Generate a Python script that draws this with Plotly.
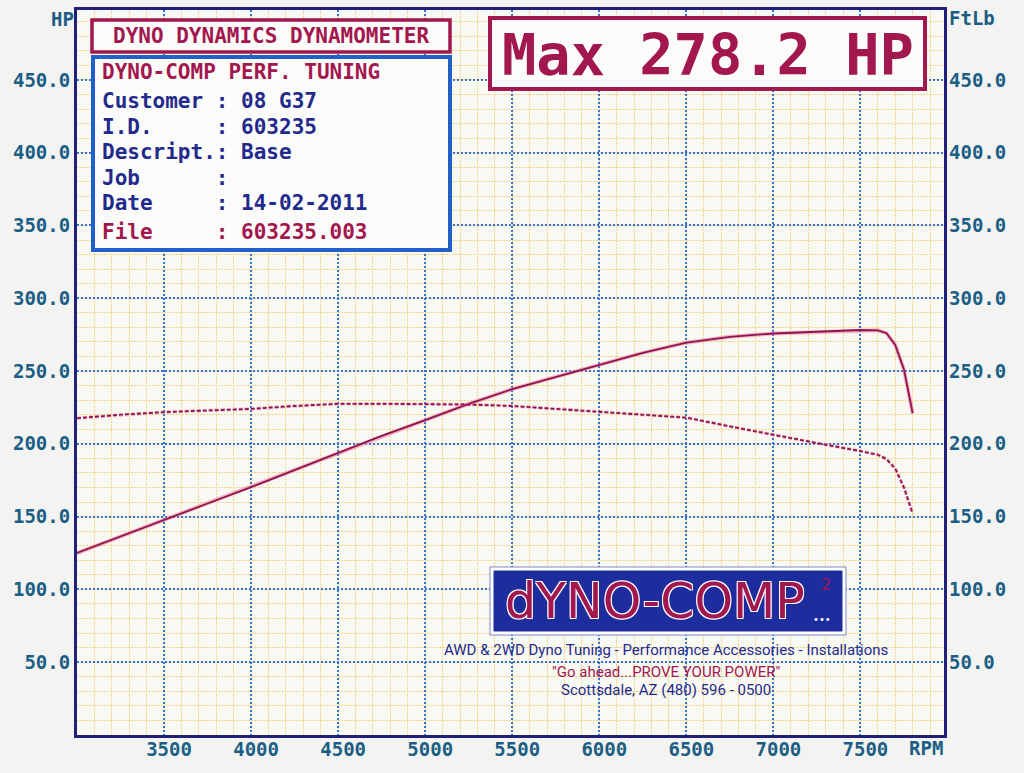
import plotly.graph_objects as go

# ---------------- data ----------------
rpm = [3000, 3250, 3500, 3750, 4000, 4250, 4500, 4750, 5000, 5250, 5500, 5750,
       6000, 6250, 6500, 6750, 7000, 7250, 7500, 7600, 7650, 7700, 7750, 7800]
hp = [125.0, 136.5, 147.7, 159.0, 170.3, 182.0, 194.0, 205.5, 216.3, 227.5, 237.6, 246.0,
      254.0, 262.5, 269.5, 273.5, 275.8, 276.8, 278.2, 278.0, 276.0, 268.0, 251.0, 221.0]
torque = [217.6, 220.0, 221.8, 223.0, 224.0, 226.0, 227.5, 227.5, 227.3, 227.0, 226.0, 224.0,
          221.5, 220.0, 218.0, 212.0, 206.0, 200.5, 195.0, 192.5, 189.5, 183.0, 170.0, 152.0]

x_ticks = [3500, 4000, 4500, 5000, 5500, 6000, 6500, 7000, 7500]
y_ticks = [50, 100, 150, 200, 250, 300, 350, 400, 450]

info_lines = [
    ("DYNO-COMP PERF. TUNING", "crimson"),
    ("Customer : 08 G37", "navy"),
    ("I.D.     : 603235", "navy"),
    ("Descript.: Base", "navy"),
    ("Job      :", "navy"),
    ("Date     : 14-02-2011", "navy"),
    ("File     : 603235.003", "crimson"),
]
header_text = "DYNO DYNAMICS DYNAMOMETER"
max_text = "Max 278.2 HP"
logo_text = "dYNO-COMP"
tag_lines = [
    ("AWD & 2WD Dyno Tuning - Performance Accessories - Installations", "navy"),
    ("\"Go ahead...PROVE YOUR POWER\"", "crimson"),
    ("Scottsdale, AZ (480) 596 - 0500", "navy"),
]

# ---------------- style ----------------
W, H = 1024, 773
L, R, T, B = 77, 80, 10, 38
PW, PH = W - L - R, H - T - B
MONO = "DejaVu Sans Mono"
C_CRIMSON = "#a3174f"
C_NAVY = "#1f2a8c"
C_AXIS = "#1b5e85"
C_FRAME = "#20207c"
C_MAJOR = "#3573d4"
C_MINOR = "#f0d68e"
colors = {"crimson": C_CRIMSON, "navy": C_NAVY}


def px(x):
    return (x - L) / PW


def py(y):
    return (H - B - y) / PH


fig = go.Figure()

# halo + line for HP
fig.add_trace(go.Scatter(x=rpm, y=hp, mode="lines", line=dict(color="#f27a9a", width=4),
                         opacity=0.55, hoverinfo="skip", showlegend=False))
fig.add_trace(go.Scatter(x=rpm, y=hp, mode="lines", name="HP",
                         line=dict(color="#8c1450", width=1.8), showlegend=False))
# torque (dashed) on right axis
fig.add_trace(go.Scatter(x=rpm, y=torque, mode="lines", yaxis="y2", line=dict(color="#f27a9a", width=3.5, dash="4px,2px"),
                         opacity=0.5, hoverinfo="skip", showlegend=False))
fig.add_trace(go.Scatter(x=rpm, y=torque, mode="lines", name="FtLb", yaxis="y2",
                         line=dict(color="#8c1450", width=1.8, dash="4px,2px"), showlegend=False))

axis_font = dict(family=MONO, size=19, color=C_AXIS, weight="bold")

fig.update_layout(
    width=W, height=H,
    margin=dict(l=L, r=R, t=T, b=B, pad=0, autoexpand=False),
    paper_bgcolor="#f3f4f1",
    plot_bgcolor="#f9f9f3",
    showlegend=False,
    xaxis=dict(
        range=[3000, 7980], tickvals=x_ticks, ticktext=[str(v) for v in x_ticks],
        showgrid=True, gridcolor=C_MAJOR, griddash="2px,2px", gridwidth=1.5,
        minor=dict(dtick=100, tick0=3000, showgrid=True, gridcolor=C_MINOR, griddash="2px,1px", gridwidth=1.2),
        showline=True, mirror=True, linecolor=C_FRAME, linewidth=3, automargin=False,
        ticks="", tickfont=axis_font, ticklabelstandoff=-5, ticklabelshift=5, zeroline=False,
    ),
    yaxis=dict(
        range=[0, 498], tickvals=y_ticks, ticktext=["%.1f" % v for v in y_ticks],
        showgrid=True, gridcolor=C_MAJOR, griddash="2px,2px", gridwidth=1.5,
        minor=dict(dtick=10, tick0=0, showgrid=True, gridcolor=C_MINOR, griddash="2px,1px", gridwidth=1.2),
        showline=True, mirror=True, linecolor=C_FRAME, linewidth=3, automargin=False,
        ticks="", tickfont=axis_font, ticklabelstandoff=0, zeroline=False,
    ),
    yaxis2=dict(
        range=[0, 498], tickvals=y_ticks, ticktext=["%.1f" % v for v in y_ticks],
        overlaying="y", side="right", showgrid=False, zeroline=False, automargin=False,
        ticks="", tickfont=axis_font, ticklabelstandoff=4,
    ),
)

shapes = []
annotations = []


def ann(x, y, text, font, xanchor="center"):
    annotations.append(dict(xref="paper", yref="paper", x=px(x), y=py(y), text=text, showarrow=False,
                            font=font, xanchor=xanchor, yanchor="middle"))


def rect(x0, y0, x1, y1, fill, color, width):
    shapes.append(dict(type="rect", xref="paper", yref="paper", x0=px(x0), x1=px(x1), y0=py(y1), y1=py(y0),
                       fillcolor=fill, line=dict(color=color, width=width)))


# axis titles
title_font = dict(family=MONO, size=19, color=C_AXIS, weight="bold")
ann(62, 19, "HP", title_font)
ann(972, 18, "FtLb", title_font)
ann(926, 748, "RPM", title_font)

# header box
rect(92, 20, 450, 52, "#fbfbf9", C_CRIMSON, 3.5)
ann(271, 36, header_text, dict(family=MONO, size=21, color=C_CRIMSON, weight="bold"))

# info box
rect(93, 57, 450, 250, "#fbfbf9", "#2260c9", 4)
line_y = [72, 101, 127, 152, 178, 203, 232]
for (txt, col), yy in zip(info_lines, line_y):
    ann(100, yy, txt.replace(" ", "\u00a0"), dict(family=MONO, size=21, color=colors[col], weight="bold"),
        xanchor="left")

# max box
rect(490, 18, 925, 89, "#fbfbf9", C_CRIMSON, 4)
ann(708, 55, max_text, dict(family=MONO, size=57, color=C_CRIMSON, weight="bold"))

# logo
rect(490, 567, 846, 635, "#ffffff", "#7d88c4", 1)
rect(494, 571, 842, 631, "#1e2d9e", "#1e2d9e", 1)
ann(655, 601, logo_text, dict(family="DejaVu Sans", size=49, color=C_CRIMSON,
                              shadow="1px 1px 0 #ffffff, -1px -1px 0 #ffffff, 1px -1px 0 #ffffff, -1px 1px 0 #ffffff"))
ann(826, 584, "2", dict(family="DejaVu Sans", size=16, color=C_CRIMSON))
ann(822, 619, "•••", dict(family="DejaVu Sans", size=10, color="#ffffff"))

tag_y = [650, 672, 690]
for (txt, col), yy in zip(tag_lines, tag_y):
    ann(666, yy, txt, dict(family="Roboto", size=15, color=colors[col]))

fig.update_layout(shapes=shapes, annotations=annotations)
fig.write_html("out.html", config={"displayModeBar": False},
               post_script="document.body.style.margin='0';document.body.style.overflow='hidden';")
